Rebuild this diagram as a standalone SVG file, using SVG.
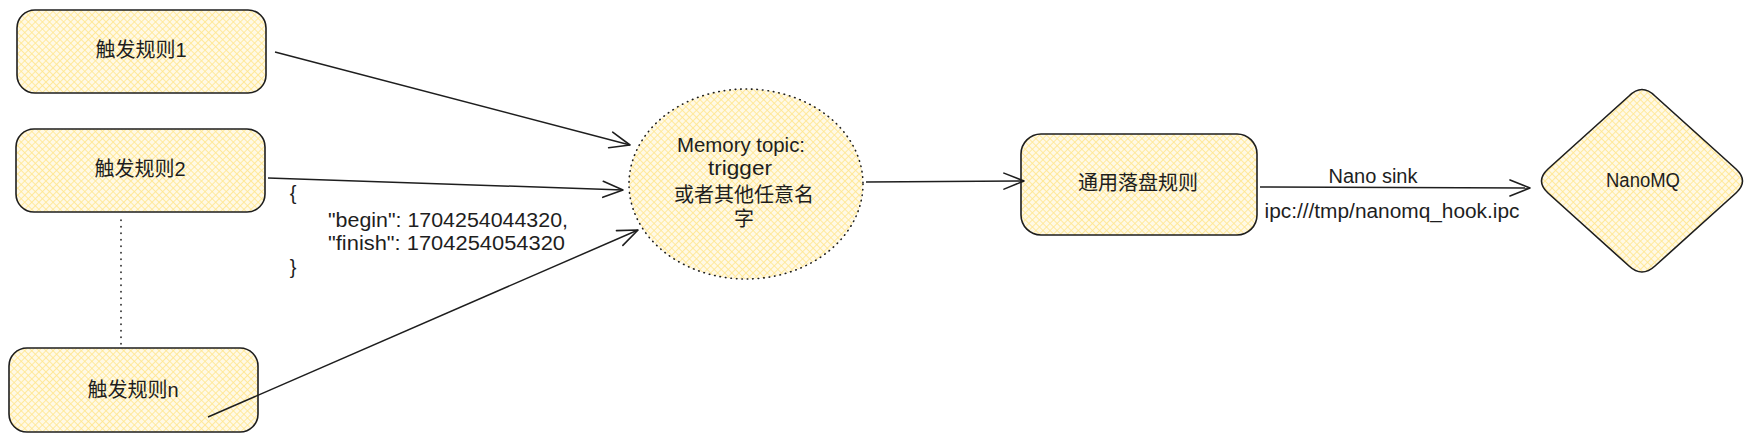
<svg xmlns="http://www.w3.org/2000/svg" width="1760" height="442" viewBox="0 0 1760 442">
<defs>
<pattern id="hatch" width="5" height="5" patternUnits="userSpaceOnUse" patternTransform="rotate(45)">
<rect width="5" height="5" fill="#fff9e6"/>
<line x1="0" y1="0" x2="0" y2="5" stroke="#ffe790" stroke-width="1.7"/>
<line x1="0" y1="0" x2="5" y2="0" stroke="#ffe790" stroke-width="1.7"/>
</pattern>
<marker id="arrow" viewBox="0 0 24 20" refX="22" refY="10" markerWidth="24" markerHeight="20" markerUnits="userSpaceOnUse" orient="auto">
<path d="M2,2 L22,10 L2,18" fill="none" stroke="#1e1e1e" stroke-width="1.6" stroke-linecap="round" stroke-linejoin="round"/>
</marker>
</defs>
<style>
.node{fill:url(#hatch);stroke:#1e1e1e;stroke-width:1.6}
.dot{fill:url(#hatch);stroke:#1e1e1e;stroke-width:1.6;stroke-dasharray:0.5 5;stroke-linecap:round}
.conn{fill:none;stroke:#1e1e1e;stroke-width:1.5;marker-end:url(#arrow)}
.dline{fill:none;stroke:#1e1e1e;stroke-width:1.6;stroke-dasharray:0.5 6;stroke-linecap:round}
.t{font-family:"Liberation Sans","Noto Sans CJK SC",sans-serif;fill:#1e1e1e;font-size:20px}
.c{text-anchor:middle}
</style>
<rect width="1760" height="442" fill="#ffffff"/>
<g id="json-note">
<text class="t c" x="293" y="200" font-size="18">{</text>
<text class="t" x="328" y="227" font-size="18" textLength="240" lengthAdjust="spacingAndGlyphs">"begin": 1704254044320,</text>
<text class="t" x="328" y="250" font-size="18" textLength="237" lengthAdjust="spacingAndGlyphs">"finish": 1704254054320</text>
<text class="t c" x="293" y="274" font-size="18">}</text>
</g>
<g id="rule1">
<rect class="node" x="17" y="10" width="249" height="83" rx="18"/>
<text class="t c" x="141" y="57">触发规则1</text>
</g>
<g id="rule2">
<rect class="node" x="16" y="129" width="249" height="83" rx="18"/>
<text class="t c" x="140" y="176">触发规则2</text>
</g>
<g id="rulen">
<rect class="node" x="9" y="348" width="249" height="84" rx="18"/>
<text class="t c" x="133" y="397">触发规则n</text>
</g>
<g id="memory-topic">
<ellipse class="dot" cx="746" cy="184" rx="117" ry="95"/>
<text class="t c" x="741" y="152" font-size="18" textLength="128" lengthAdjust="spacingAndGlyphs">Memory topic:</text>
<text class="t c" x="740" y="175" font-size="18" textLength="64" lengthAdjust="spacingAndGlyphs">trigger</text>
<text class="t c" x="744" y="202">或者其他任意名</text>
<text class="t c" x="744" y="226">字</text>
</g>
<g id="sink-rule">
<rect class="node" x="1021" y="134" width="236" height="101" rx="20"/>
<text class="t c" x="1138" y="190">通用落盘规则</text>
</g>
<g id="nanomq">
<path class="node" d="M1629,96 Q1642,83 1655,96 L1736,169 Q1749,181 1736,193 L1655,266 Q1642,278 1629,266 L1548,193 Q1535,181 1548,169 Z"/>
<text class="t c" x="1643" y="187" font-size="18" textLength="74" lengthAdjust="spacingAndGlyphs">NanoMQ</text>
</g>
<g id="connectors">
<path class="conn" d="M275,52 L630,145"/>
<path class="conn" d="M268,178 L623,190"/>
<path class="conn" d="M208,417 L638,230"/>
<path class="conn" d="M866,182 L1024,181"/>
<path class="conn" d="M1260,187 L1530,188"/>
<path class="dline" d="M121,220 L121,346"/>
<text class="t c" x="1373" y="183" font-size="17" textLength="89" lengthAdjust="spacingAndGlyphs">Nano sink</text>
<text class="t c" x="1392" y="218" font-size="18" textLength="255" lengthAdjust="spacingAndGlyphs">ipc:///tmp/nanomq_hook.ipc</text>
</g>
</svg>
